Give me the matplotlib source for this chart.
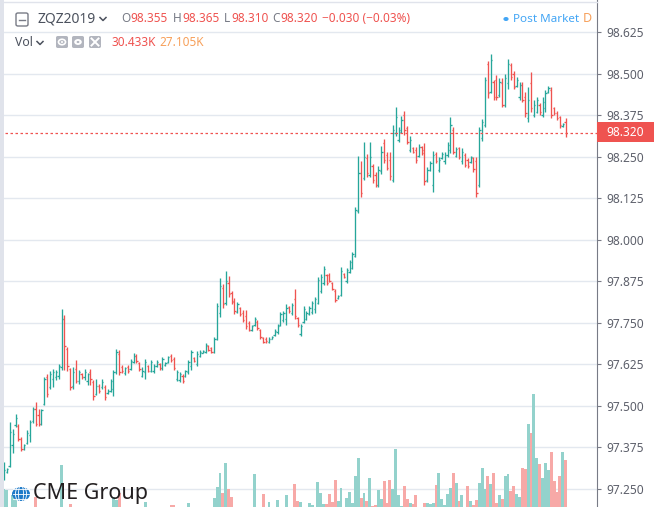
import matplotlib
matplotlib.use("Agg")
import matplotlib.pyplot as plt
import numpy as np
from matplotlib.patches import Rectangle, FancyBboxPatch, Circle, Ellipse
from matplotlib.lines import Line2D

plt.rcParams['font.family'] = ['Noto Sans', 'DejaVu Sans']

# daily OHLC, ZQZ2019
opens = [
    97.285, 97.300, 97.318, 97.380, 97.440, 97.438, 97.398, 97.370, 97.388, 97.410,
    97.452, 97.490, 97.470, 97.445, 97.505, 97.585, 97.555, 97.580, 97.585, 97.590,
    97.615, 97.760, 97.670, 97.610, 97.560, 97.610, 97.575, 97.595, 97.585, 97.575,
    97.600, 97.570, 97.535, 97.560, 97.555, 97.555, 97.538, 97.545, 97.550, 97.600,
    97.655, 97.615, 97.598, 97.615, 97.610, 97.632, 97.650, 97.628, 97.590, 97.600,
    97.618, 97.605, 97.603, 97.620, 97.625, 97.612, 97.621, 97.630, 97.650, 97.640,
    97.580, 97.576, 97.590, 97.589, 97.600, 97.620, 97.643, 97.625, 97.650, 97.659,
    97.662, 97.680, 97.672, 97.662, 97.700, 97.780, 97.855, 97.810, 97.870, 97.840,
    97.815, 97.783, 97.793, 97.780, 97.770, 97.750, 97.727, 97.742, 97.752, 97.726,
    97.702, 97.700, 97.691, 97.701, 97.711, 97.720, 97.743, 97.757, 97.760, 97.797,
    97.778, 97.820, 97.763, 97.715, 97.752, 97.762, 97.776, 97.782, 97.790, 97.810,
    97.845, 97.870, 97.892, 97.894, 97.868, 97.846, 97.823, 97.833, 97.896, 97.874,
    97.903, 97.915, 97.950, 98.085, 98.200, 98.185, 98.245, 98.195, 98.220, 98.195,
    98.165, 98.205, 98.290, 98.255, 98.240, 98.180, 98.320, 98.300, 98.325, 98.375,
    98.335, 98.270, 98.275, 98.270, 98.252, 98.278, 98.270, 98.178, 98.210, 98.165,
    98.258, 98.210, 98.246, 98.235, 98.255, 98.270, 98.330, 98.253, 98.275, 98.235,
    98.255, 98.240, 98.233, 98.245, 98.235, 98.165, 98.305, 98.345, 98.530, 98.445,
    98.475, 98.480, 98.435, 98.470, 98.405, 98.470, 98.525, 98.500, 98.462, 98.430,
    98.465, 98.430, 98.365, 98.470, 98.375, 98.385, 98.405, 98.375, 98.395, 98.443,
    98.450, 98.395, 98.382, 98.368, 98.341, 98.355]

highs = [
    97.330, 97.312, 97.450, 97.429, 97.474, 97.444, 97.405, 97.384, 97.426, 97.456,
    97.495, 97.510, 97.490, 97.490, 97.586, 97.595, 97.604, 97.610, 97.607, 97.625,
    97.791, 97.773, 97.676, 97.613, 97.616, 97.637, 97.607, 97.598, 97.610, 97.598,
    97.610, 97.577, 97.580, 97.565, 97.580, 97.562, 97.550, 97.580, 97.607, 97.670,
    97.667, 97.622, 97.616, 97.622, 97.640, 97.658, 97.655, 97.631, 97.616, 97.640,
    97.622, 97.637, 97.625, 97.637, 97.628, 97.646, 97.631, 97.649, 97.655, 97.646,
    97.607, 97.601, 97.595, 97.607, 97.637, 97.667, 97.646, 97.664, 97.667, 97.667,
    97.688, 97.682, 97.676, 97.706, 97.809, 97.884, 97.866, 97.905, 97.890, 97.845,
    97.824, 97.812, 97.797, 97.788, 97.788, 97.755, 97.743, 97.767, 97.758, 97.730,
    97.706, 97.706, 97.706, 97.709, 97.730, 97.746, 97.782, 97.785, 97.806, 97.800,
    97.809, 97.851, 97.767, 97.746, 97.800, 97.785, 97.800, 97.815, 97.827, 97.887,
    97.896, 97.920, 97.896, 97.899, 97.872, 97.851, 97.833, 97.917, 97.899, 97.914,
    97.938, 97.962, 98.098, 98.252, 98.236, 98.294, 98.258, 98.294, 98.227, 98.203,
    98.221, 98.282, 98.303, 98.264, 98.264, 98.345, 98.399, 98.339, 98.372, 98.387,
    98.342, 98.312, 98.279, 98.279, 98.288, 98.282, 98.291, 98.218, 98.236, 98.267,
    98.264, 98.249, 98.264, 98.264, 98.294, 98.369, 98.339, 98.279, 98.279, 98.276,
    98.261, 98.246, 98.252, 98.249, 98.249, 98.339, 98.363, 98.489, 98.538, 98.559,
    98.480, 98.495, 98.486, 98.486, 98.498, 98.544, 98.532, 98.508, 98.489, 98.474,
    98.474, 98.444, 98.459, 98.505, 98.420, 98.429, 98.411, 98.429, 98.450, 98.462,
    98.459, 98.399, 98.387, 98.372, 98.351, 98.365]

lows = [
    97.276, 97.298, 97.315, 97.357, 97.435, 97.393, 97.363, 97.366, 97.384, 97.390,
    97.447, 97.438, 97.438, 97.441, 97.502, 97.526, 97.550, 97.556, 97.577, 97.580,
    97.607, 97.607, 97.604, 97.547, 97.550, 97.568, 97.565, 97.580, 97.577, 97.562,
    97.562, 97.517, 97.532, 97.538, 97.550, 97.517, 97.535, 97.541, 97.529, 97.595,
    97.592, 97.598, 97.592, 97.598, 97.607, 97.628, 97.628, 97.604, 97.586, 97.580,
    97.601, 97.601, 97.598, 97.616, 97.607, 97.607, 97.619, 97.628, 97.631, 97.607,
    97.574, 97.571, 97.568, 97.586, 97.595, 97.607, 97.631, 97.619, 97.646, 97.658,
    97.658, 97.664, 97.658, 97.658, 97.697, 97.767, 97.794, 97.803, 97.827, 97.806,
    97.776, 97.779, 97.770, 97.752, 97.730, 97.724, 97.724, 97.740, 97.728, 97.700,
    97.688, 97.688, 97.688, 97.700, 97.709, 97.716, 97.740, 97.752, 97.743, 97.779,
    97.773, 97.761, 97.737, 97.709, 97.749, 97.758, 97.773, 97.776, 97.779, 97.806,
    97.839, 97.863, 97.863, 97.872, 97.848, 97.812, 97.821, 97.830, 97.884, 97.869,
    97.899, 97.911, 97.947, 98.080, 98.128, 98.179, 98.188, 98.188, 98.170, 98.158,
    98.158, 98.197, 98.230, 98.209, 98.179, 98.173, 98.312, 98.294, 98.321, 98.315,
    98.288, 98.264, 98.261, 98.230, 98.249, 98.255, 98.164, 98.173, 98.206, 98.143,
    98.230, 98.203, 98.243, 98.227, 98.249, 98.261, 98.258, 98.249, 98.243, 98.227,
    98.218, 98.215, 98.230, 98.203, 98.128, 98.158, 98.297, 98.339, 98.426, 98.441,
    98.420, 98.420, 98.429, 98.399, 98.399, 98.453, 98.480, 98.453, 98.459, 98.420,
    98.414, 98.369, 98.354, 98.384, 98.369, 98.381, 98.375, 98.369, 98.384, 98.441,
    98.366, 98.375, 98.360, 98.336, 98.339, 98.310]

closes = [
    97.305, 97.308, 97.420, 97.415, 97.462, 97.400, 97.368, 97.380, 97.418, 97.450,
    97.488, 97.445, 97.445, 97.485, 97.580, 97.535, 97.595, 97.600, 97.600, 97.620,
    97.760, 97.680, 97.620, 97.555, 97.600, 97.575, 97.600, 97.585, 97.600, 97.595,
    97.580, 97.530, 97.560, 97.545, 97.570, 97.525, 97.545, 97.575, 97.600, 97.660,
    97.600, 97.605, 97.612, 97.603, 97.635, 97.650, 97.635, 97.610, 97.605, 97.630,
    97.605, 97.630, 97.620, 97.632, 97.612, 97.640, 97.628, 97.645, 97.636, 97.612,
    97.600, 97.595, 97.574, 97.603, 97.630, 97.660, 97.634, 97.655, 97.662, 97.665,
    97.683, 97.668, 97.661, 97.700, 97.800, 97.860, 97.805, 97.875, 97.835, 97.812,
    97.785, 97.805, 97.775, 97.757, 97.738, 97.728, 97.738, 97.762, 97.732, 97.705,
    97.692, 97.693, 97.700, 97.707, 97.725, 97.740, 97.775, 97.780, 97.795, 97.784,
    97.802, 97.770, 97.742, 97.740, 97.790, 97.780, 97.795, 97.808, 97.820, 97.878,
    97.888, 97.912, 97.868, 97.876, 97.852, 97.818, 97.830, 97.905, 97.888, 97.908,
    97.932, 97.955, 98.090, 98.200, 98.140, 98.250, 98.200, 98.250, 98.180, 98.165,
    98.210, 98.265, 98.240, 98.215, 98.190, 98.330, 98.370, 98.330, 98.360, 98.330,
    98.295, 98.300, 98.265, 98.240, 98.280, 98.260, 98.175, 98.210, 98.230, 98.255,
    98.235, 98.240, 98.258, 98.255, 98.285, 98.345, 98.265, 98.272, 98.250, 98.265,
    98.225, 98.220, 98.248, 98.212, 98.140, 98.330, 98.355, 98.480, 98.440, 98.540,
    98.430, 98.430, 98.475, 98.405, 98.485, 98.530, 98.490, 98.460, 98.480, 98.465,
    98.420, 98.380, 98.420, 98.395, 98.405, 98.420, 98.385, 98.415, 98.440, 98.455,
    98.375, 98.380, 98.365, 98.345, 98.348, 98.320]

# volume in thousands of contracts
volumes = [
    13.5, 12.9, 2.0, 10.0, 9.5, 1.8, 2.2, 1.5, 2.4, 1.9,
    2.1, 8.8, 1.6, 2.0, 2.5, 1.8, 2.2, 1.4, 1.7, 2.3,
    27.5, 2.6, 2.0, 4.7, 1.8, 1.5, 2.1, 1.2, 1.6, 1.9,
    1.4, 2.4, 1.7, 1.3, 1.5, 2.2, 1.1, 1.8, 8.8, 7.0,
    11.1, 1.9, 1.4, 1.6, 2.0, 1.7, 1.5, 2.1, 1.8, 5.8,
    1.3, 1.9, 1.5, 1.2, 1.6, 2.2, 1.0, 1.7, 4.1, 4.1,
    2.3, 1.8, 2.0, 1.6, 5.3, 2.4, 1.3, 2.0, 1.5, 1.2,
    2.1, 1.4, 1.7, 8.2, 14.6, 22.8, 11.1, 28.7, 13.5, 8.8,
    2.5, 2.0, 1.6, 2.2, 2.6, 1.9, 1.5, 22.2, 2.3, 2.7,
    10.5, 2.0, 5.8, 1.4, 2.1, 7.0, 2.5, 2.2, 9.9, 1.8,
    2.4, 16.4, 6.4, 5.8, 2.6, 2.0, 5.3, 4.1, 2.7, 17.5,
    11.1, 4.7, 4.7, 10.5, 5.8, 18.7, 6.4, 14.0, 2.0, 8.2,
    11.7, 5.3, 21.1, 31.6, 8.2, 11.1, 6.4, 19.9, 3.5, 4.1,
    12.9, 7.6, 18.1, 5.3, 18.7, 13.5, 36.8, 9.9, 3.5, 15.2,
    7.6, 5.3, 4.7, 9.9, 1.5, 2.0, 5.3, 5.3, 4.7, 5.3,
    15.8, 22.8, 7.6, 4.1, 10.5, 14.0, 22.8, 17.0, 6.4, 9.9,
    1.5, 15.2, 6.4, 4.1, 7.0, 17.0, 25.7, 13.5, 21.1, 16.4,
    22.8, 5.3, 9.9, 7.6, 21.1, 22.2, 12.3, 15.2, 10.5, 8.8,
    25.7, 25.1, 51.5, 46.2, 69.0, 31.6, 28.1, 19.9, 28.7, 24.6,
    35.1, 18.1, 11.7, 21.1, 35.1, 30.433]

price_ticks = [97.250, 97.375, 97.500, 97.625, 97.750, 97.875,
               98.000, 98.125, 98.250, 98.375, 98.500, 98.625]
last_price = 98.320

UP = '#26a69a'
DOWN = '#ef5350'
UP_VOL = '#93d2cc'
DOWN_VOL = '#f7a9a7'
GRAY = '#787b86'
TEXT = '#4c525e'
ORANGE = '#f7a05a'
BLUE = '#42a5f5'

W, H = 654, 507


def fx(x):
    return x / W


def fy(y):
    return 1 - y / H


o = np.array(opens)
c = np.array(closes)
idx = np.arange(len(o))
up = c >= o
bar_colors = np.where(up, UP, DOWN)
vol_colors = np.where(up, UP_VOL, DOWN_VOL)

fig = plt.figure(figsize=(W / 100, H / 100), dpi=100)
fig.patch.set_facecolor('white')

rect = [0, 0, 597 / W, 1]
xlim = (-1.39, 205.9)
ylim = (97.1943, 98.7214)

# bottom layer: grid + right price scale
ax = fig.add_axes(rect, zorder=1)
ax.set_xlim(*xlim)
ax.set_ylim(*ylim)
ax.set_yticks(price_ticks)
ax.set_yticklabels([f"{t:.3f}" for t in price_ticks])
ax.yaxis.tick_right()
ax.tick_params(axis='y', length=3, width=0.8, color=GRAY, labelcolor='#5d606b',
               labelsize=8.6, pad=4)
ax.set_xticks([])
ax.grid(axis='y', color='#e3e8ef', linewidth=1.0)
for side in ['left', 'top', 'bottom']:
    ax.spines[side].set_visible(False)
ax.spines['right'].set_color(GRAY)
ax.spines['right'].set_linewidth(0.8)

# volume layer (its zero sits a few pixels below the cropped bottom edge)
ax_vol = fig.add_axes(rect, zorder=2)
ax_vol.patch.set_alpha(0)
ax_vol.bar(idx, volumes, width=1.0, color=vol_colors, linewidth=0)
ax_vol.set_xlim(*xlim)
ax_vol.set_ylim(2.92, 299.4)
ax_vol.axis('off')

# price bars on top
axb = fig.add_axes(rect, zorder=3)
axb.patch.set_alpha(0)
axb.set_xlim(*xlim)
axb.set_ylim(*ylim)
axb.axis('off')
axb.vlines(idx, lows, highs, colors=bar_colors, linewidth=0.95)
axb.hlines(opens, idx - 0.45, idx, colors=bar_colors, linewidth=0.95)
axb.hlines(closes, idx, idx + 0.45, colors=bar_colors, linewidth=0.95)
axb.axhline(last_price, color=DOWN, linewidth=0.9, linestyle=(0, (2, 2)))

# last price tag
fig.patches.append(Rectangle((fx(597), fy(142)), fx(57), 20 / H, transform=fig.transFigure,
                             facecolor=DOWN, edgecolor='none', zorder=5))
fig.text(fx(625), fy(132), f"{last_price:.3f}", color='white', fontsize=8.6,
         fontweight='bold', ha='center', va='center', zorder=6)

# pane borders
fig.patches.append(Rectangle((0, 0), fx(3.5), 1, transform=fig.transFigure,
                             facecolor='#e0e3eb', edgecolor='none', zorder=5))
fig.lines.append(Line2D([0, fx(597)], [fy(1.5), fy(1.5)], transform=fig.transFigure,
                        color='#e0e3eb', linewidth=1))

# legend row 1
fig.patches.append(FancyBboxPatch((fx(16), fy(26)), fx(12), 13 / H,
                                  boxstyle='round,pad=0,rounding_size=0.003',
                                  transform=fig.transFigure, facecolor='none',
                                  edgecolor=GRAY, linewidth=1.0, zorder=5))
fig.lines.append(Line2D([fx(19), fx(25)], [fy(19.5), fy(19.5)], transform=fig.transFigure,
                        color=GRAY, linewidth=1.0))


def chevron(x, y):
    fig.lines.append(Line2D([fx(x), fx(x + 3), fx(x + 6)], [fy(y), fy(y + 3), fy(y)],
                            transform=fig.transFigure, color=TEXT, linewidth=1.1))


fig.text(fx(37), fy(19), "ZQZ2019", color=TEXT, fontsize=10, va='center')
chevron(100, 17.5)

legend_row = [
    ("O", 121, GRAY), ("98.355", 130.5, DOWN),
    ("H", 173, GRAY), ("98.365", 182, DOWN),
    ("L", 224, GRAY), ("98.310", 231, DOWN),
    ("C", 272, GRAY), ("98.320", 280.5, DOWN),
    ("\u22120.030 (\u22120.03%)", 322, DOWN),
]
for txt, x, col in legend_row:
    fig.text(fx(x), fy(19), txt, color=col, fontsize=8.5, va='center')

# legend row 2
fig.text(fx(15), fy(42), "Vol", color=TEXT, fontsize=8.8, va='center')
chevron(37, 41.5)
for x0 in [56, 72, 89]:
    fig.patches.append(FancyBboxPatch((fx(x0), fy(48)), fx(12), 12 / H,
                                      boxstyle='round,pad=0,rounding_size=0.003',
                                      transform=fig.transFigure, facecolor='#b2b5be',
                                      edgecolor='none', zorder=5))
fig.patches.append(Circle((fx(62), fy(42)), 3.5 / W, transform=fig.transFigure,
                          facecolor='none', edgecolor='white', linewidth=1.2, zorder=6))
fig.patches.append(Circle((fx(62), fy(42)), 1.2 / W, transform=fig.transFigure,
                          facecolor='white', edgecolor='none', zorder=6))
fig.patches.append(Circle((fx(78), fy(42)), 3.8 / W, transform=fig.transFigure,
                          facecolor='white', edgecolor='none', zorder=6))
fig.patches.append(Circle((fx(78), fy(42)), 1.4 / W, transform=fig.transFigure,
                          facecolor='#b2b5be', edgecolor='none', zorder=7))
fig.lines.append(Line2D([fx(91.5), fx(98.5)], [fy(38.5), fy(45.5)], transform=fig.transFigure,
                        color='white', linewidth=1.4, zorder=7))
fig.lines.append(Line2D([fx(91.5), fx(98.5)], [fy(45.5), fy(38.5)], transform=fig.transFigure,
                        color='white', linewidth=1.4, zorder=7))
fig.text(fx(112), fy(42), "30.433K", color=DOWN, fontsize=8.5, va='center')
fig.text(fx(159), fy(42), "27.105K", color=ORANGE, fontsize=8.5, va='center')

# session status
fig.patches.append(Circle((fx(506), fy(19)), 2.6 / W, transform=fig.transFigure,
                          facecolor=BLUE, edgecolor='none', zorder=6))
fig.text(fx(513), fy(19), "Post Market", color=BLUE, fontsize=8.4, va='center')
fig.text(fx(583), fy(19), "D", color=ORANGE, fontsize=9, va='center')

# CME Group logo
fig.patches.append(Circle((fx(21), fy(494)), 9 / W, transform=fig.transFigure,
                          facecolor='#1e7ac8', edgecolor='none', zorder=8))
for wdt in [5, 11]:
    fig.patches.append(Ellipse((fx(21), fy(494)), wdt / W, 18 / H, transform=fig.transFigure,
                               facecolor='none', edgecolor='white', linewidth=0.6, zorder=9))
for yy in [489, 494, 499]:
    fig.lines.append(Line2D([fx(13), fx(29)], [fy(yy), fy(yy)], transform=fig.transFigure,
                            color='white', linewidth=0.6, zorder=9))
fig.text(fx(33), fy(494), "CME Group", color='#231f20', fontsize=15.5, va='center', zorder=9)

fig.savefig("out.png", dpi=100)
